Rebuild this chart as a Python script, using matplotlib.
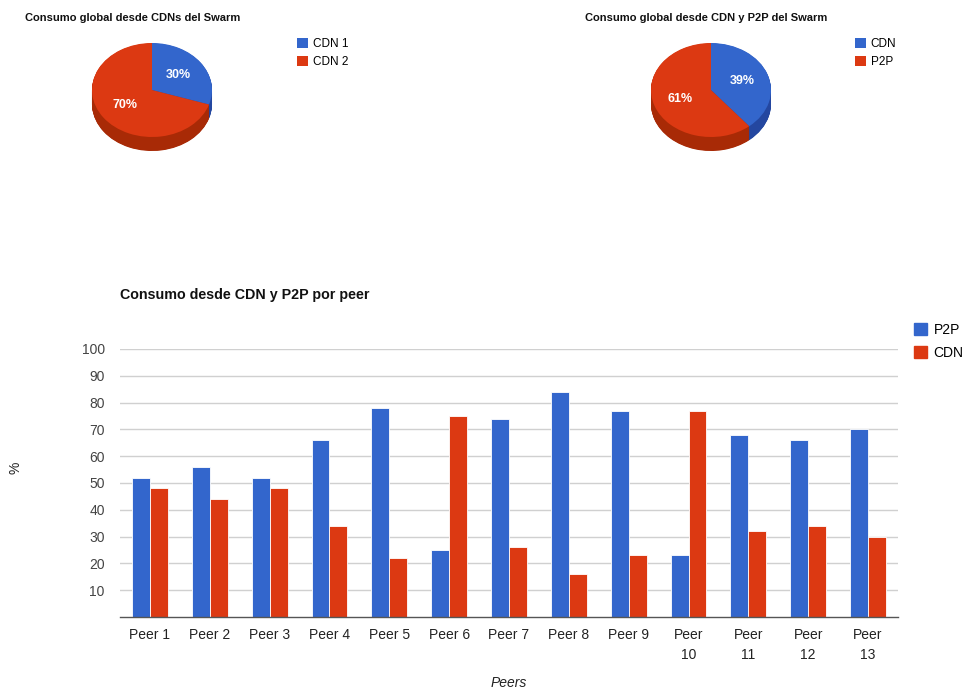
import numpy as np
import matplotlib
matplotlib.use("Agg")
import matplotlib.pyplot as plt
from matplotlib.patches import Patch

plt.rcParams['font.family'] = ['Liberation Sans', 'DejaVu Sans']

# datos de las tartas
cdn_labels = ['CDN 1', 'CDN 2']
cdn_share = [30, 70]
mix_labels = ['CDN', 'P2P']
mix_share = [39, 61]

# datos por peer
peers = ['Peer 1', 'Peer 2', 'Peer 3', 'Peer 4', 'Peer 5', 'Peer 6', 'Peer 7',
         'Peer 8', 'Peer 9', 'Peer\n10', 'Peer\n11', 'Peer\n12', 'Peer\n13']
p2p = [52, 56, 52, 66, 78, 25, 74, 84, 77, 23, 68, 66, 70]
cdn = [48, 44, 48, 34, 22, 75, 26, 16, 23, 77, 32, 34, 30]

BLUE = '#3366CC'
RED = '#DC3912'
DARK = ['#2447a0', '#a82a06']

W, H = 965, 691
fig = plt.figure(figsize=(W / 100, H / 100), dpi=100)


def px_axes(x0, y0, x1, y1):
    # caja en pixeles, origen arriba a la izquierda
    return fig.add_axes([x0 / W, 1 - y1 / H, (x1 - x0) / W, (y1 - y0) / H])


def pie3d(cx, cy, vals, labels, title, tx, lx):
    a, b, depth = 60.0, 47.0, 14.0
    ax = px_axes(cx - 70, 30, cx + 70, 170)
    d = depth / b
    # canto de la tarta: copias oscuras apiladas hacia abajo
    for k in np.linspace(d, 0, 30, endpoint=False):
        ax.pie(vals, colors=DARK, startangle=90, counterclock=False,
               center=(0, -k), wedgeprops=dict(linewidth=0))
    wedges, _, autot = ax.pie(vals, colors=[BLUE, RED], startangle=90,
                              counterclock=False, autopct='%d%%',
                              pctdistance=0.55,
                              wedgeprops=dict(linewidth=0),
                              textprops=dict(color='white', fontsize=9,
                                             fontweight='bold'))
    ax.set_aspect('auto')
    ax.set_xlim(-70 / a, 70 / a)
    ax.set_ylim(-(170 - cy) / b, (cy - 30) / b)
    ax.axis('off')
    fig.text(tx / W, 1 - 18 / H, title, fontsize=8, fontweight='bold',
             ha='left', va='center', color='#111')
    fig.legend(wedges, labels, loc='upper left',
               bbox_to_anchor=(lx / W, 1 - 32 / H), frameon=False,
               fontsize=8.5, handlelength=0.9, handleheight=0.9,
               handletextpad=0.45, labelspacing=0.5, borderpad=0)


pie3d(152, 90, cdn_share, cdn_labels,
      'Consumo global desde CDNs del Swarm', 25, 291)
pie3d(711, 90, mix_share, mix_labels,
      'Consumo global desde CDN y P2P del Swarm', 585, 849)

# barras por peer
ax = px_axes(120, 349, 898, 617)
x = np.arange(len(peers))
bw = 0.3
ax.bar(x - bw / 2, p2p, bw, color=BLUE, label='P2P', edgecolor='white',
       linewidth=0.6)
ax.bar(x + bw / 2, cdn, bw, color=RED, label='CDN', edgecolor='white',
       linewidth=0.6)
ax.set_xlim(-0.5, len(peers) - 0.5)
ax.set_ylim(0, 100)
ax.set_yticks(range(10, 101, 10))
ax.set_xticks(x)
ax.set_xticklabels(peers, fontsize=10, color='#222', linespacing=1.5)
ax.tick_params(axis='y', labelsize=10, labelcolor='#444', length=0, pad=11)
ax.tick_params(axis='x', length=0, pad=8)
ax.yaxis.grid(True, color='#d0d0d0', linewidth=1)
ax.set_axisbelow(True)
for s in ['top', 'right', 'left']:
    ax.spines[s].set_visible(False)
ax.spines['bottom'].set_color('#555')
ax.spines['bottom'].set_linewidth(1)

fig.text(120 / W, 1 - 295 / H, 'Consumo desde CDN y P2P por peer',
         fontsize=10.3, fontweight='bold', ha='left', va='center', color='#111')
fig.text(15 / W, 1 - 468 / H, '%', fontsize=10, rotation=90,
         ha='center', va='center', color='#222')
fig.text(509 / W, 1 - 683 / H, 'Peers', fontsize=10, style='italic',
         ha='center', va='center', color='#222')
fig.legend([Patch(color=BLUE), Patch(color=RED)], ['P2P', 'CDN'],
           loc='upper left', bbox_to_anchor=(907 / W, 1 - 316 / H),
           frameon=False, fontsize=10, handlelength=0.95, handleheight=0.95,
           handletextpad=0.45, labelspacing=0.65, borderpad=0)

fig.savefig('out.png', dpi=100)
